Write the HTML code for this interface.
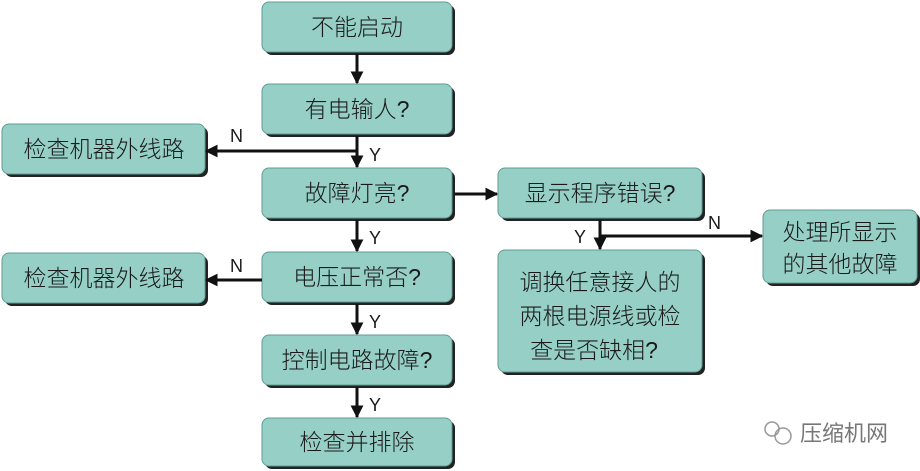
<!DOCTYPE html>
<html><head><meta charset="utf-8"><style>
html,body{margin:0;padding:0;background:#fff;}
svg{display:block;}
text{font-family:"Liberation Sans","Noto Sans CJK SC",sans-serif;fill:#1a1a1a;}
.b{fill:#95cfc6;stroke:#5f9d94;stroke-width:1;}
.s{fill:#222;}
.l{stroke:#111;stroke-width:3;fill:none;}
.t{font-size:23px;text-anchor:middle;font-weight:300;}
.yn{font-size:18px;}
</style></head><body>
<svg width="920" height="471" viewBox="0 0 920 471">
<defs><marker id="a" viewBox="0 0 10 10" refX="9" refY="5" markerWidth="4.3" markerHeight="4.3" orient="auto"><path d="M0,0L10,5L0,10z" fill="#111"/></marker></defs>
<g>
<rect class="s" x="265" y="5" width="190" height="50" rx="7"/><rect class="b" x="262" y="2" width="190" height="50" rx="7"/>
<rect class="s" x="265" y="87" width="190" height="50" rx="7"/><rect class="b" x="262" y="84" width="190" height="50" rx="7"/>
<rect class="s" x="265" y="171" width="190" height="50" rx="7"/><rect class="b" x="262" y="168" width="190" height="50" rx="7"/>
<rect class="s" x="265" y="255" width="190" height="50" rx="7"/><rect class="b" x="262" y="252" width="190" height="50" rx="7"/>
<rect class="s" x="265" y="338" width="190" height="50" rx="7"/><rect class="b" x="262" y="335" width="190" height="50" rx="7"/>
<rect class="s" x="265" y="421" width="190" height="48" rx="7"/><rect class="b" x="262" y="418" width="190" height="48" rx="7"/>
<rect class="s" x="5" y="127" width="203" height="50" rx="7"/><rect class="b" x="2" y="124" width="203" height="50" rx="7"/>
<rect class="s" x="5" y="256" width="203" height="50" rx="7"/><rect class="b" x="2" y="253" width="203" height="50" rx="7"/>
<rect class="s" x="501" y="171" width="204" height="50" rx="7"/><rect class="b" x="498" y="168" width="204" height="50" rx="7"/>
<rect class="s" x="501" y="253" width="204" height="122" rx="7"/><rect class="b" x="498" y="250" width="204" height="122" rx="7"/>
<rect class="s" x="766" y="213" width="154" height="73" rx="7"/><rect class="b" x="763" y="210" width="154" height="73" rx="7"/>
</g>
<g>
<text class="t" x="357" y="35">不能启动</text>
<text class="t" x="357" y="117">有电输人?</text>
<text class="t" x="357" y="201">故障灯亮?</text>
<text class="t" x="357" y="285">电压正常否?</text>
<text class="t" x="357" y="368">控制电路故障?</text>
<text class="t" x="357" y="450">检查并排除</text>
<text class="t" x="104" y="157">检查机器外线路</text>
<text class="t" x="104" y="286">检查机器外线路</text>
<text class="t" x="600" y="201">显示程序错误?</text>
<text class="t" x="600" y="290">调换任意接人的</text>
<text class="t" x="600" y="324">两根电源线或检</text>
<text class="t" x="594" y="358">查是否缺相?</text>
<text class="t" x="840" y="240">处理所显示</text>
<text class="t" x="840" y="272">的其他故障</text>
</g>
<g>
<line class="l" x1="357" y1="54" x2="357" y2="83" marker-end="url(#a)"/>
<line class="l" x1="357" y1="136" x2="357" y2="167" marker-end="url(#a)"/>
<line class="l" x1="357" y1="151" x2="206" y2="151" marker-end="url(#a)"/>
<line class="l" x1="357" y1="220" x2="357" y2="251" marker-end="url(#a)"/>
<line class="l" x1="262" y1="280" x2="206" y2="280" marker-end="url(#a)"/>
<line class="l" x1="357" y1="304" x2="357" y2="334" marker-end="url(#a)"/>
<line class="l" x1="357" y1="387" x2="357" y2="417" marker-end="url(#a)"/>
<line class="l" x1="455" y1="194" x2="497" y2="194" marker-end="url(#a)"/>
<line class="l" x1="600" y1="220" x2="600" y2="249" marker-end="url(#a)"/>
<line class="l" x1="600" y1="236" x2="762" y2="236" marker-end="url(#a)"/>
</g>
<g class="yn">
<text class="yn" x="230" y="142">N</text>
<text class="yn" x="369" y="161">Y</text>
<text class="yn" x="369" y="244">Y</text>
<text class="yn" x="230" y="272">N</text>
<text class="yn" x="369" y="328">Y</text>
<text class="yn" x="369" y="411">Y</text>
<text class="yn" x="574" y="243">Y</text>
<text class="yn" x="708" y="229">N</text>
</g>
<g>
<circle cx="772" cy="429" r="7" fill="none" stroke="#999" stroke-width="1.5"/>
<circle cx="783" cy="436" r="8" fill="none" stroke="#999" stroke-width="1.5"/>
<text x="800" y="441" style="font-size:22px;fill:#777">压缩机网</text>
</g>
</svg>
</body></html>
